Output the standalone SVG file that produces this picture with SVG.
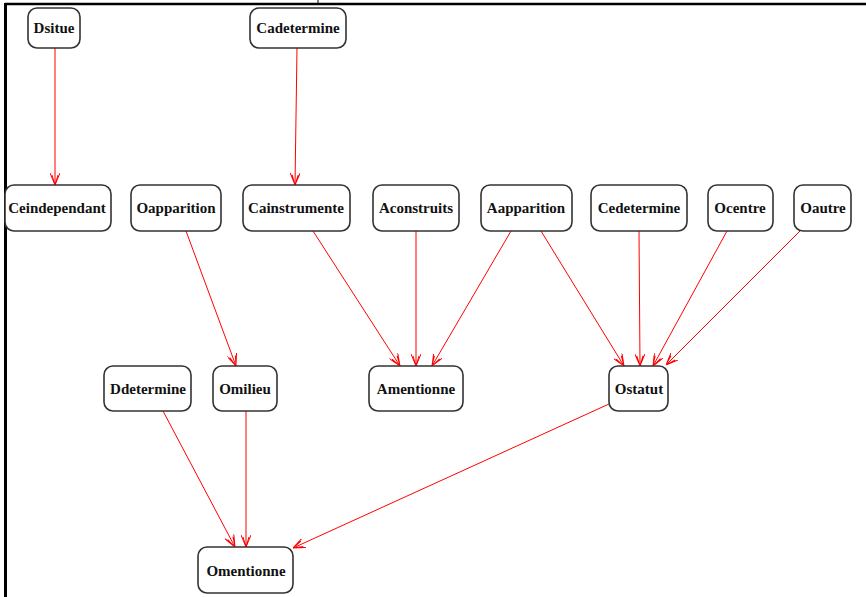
<svg xmlns="http://www.w3.org/2000/svg" width="866" height="597" viewBox="0 0 866 597">
  <defs>
    <marker id="arrow" viewBox="0 0 12 10" refX="12" refY="5" markerWidth="12" markerHeight="10" markerUnits="userSpaceOnUse" orient="auto">
      <path d="M0,0 L12,5 L0,10 M2,2 L12,5 L2,8" fill="none" stroke="#ff0000" stroke-width="1"/>
    </marker>
  </defs>
  <style>
    .box { fill: #ffffff; stroke: #333333; stroke-width: 1.6; }
    .lbl { font-family: "Liberation Serif", "DejaVu Serif", serif; font-weight: bold; font-size: 15px; fill: #111111; text-anchor: middle; dominant-baseline: central; }
    .edge { fill: none; stroke: #ff0000; stroke-width: 1; marker-end: url(#arrow); }
  </style>
  <rect width="866" height="597" fill="#ffffff"/>

  <!-- page frame -->
  <g id="frame" stroke="#000000" fill="none">
    <line x1="5" y1="4" x2="866" y2="4" stroke-width="2.5"/>
    <line x1="5.5" y1="3" x2="5.5" y2="597" stroke-width="3"/>
    <line x1="318" y1="0" x2="318" y2="4" stroke-width="1"/>
  </g>

  <!-- connectors -->
  <g id="edges">
    <line class="edge" x1="55" y1="48" x2="55" y2="185"/>
    <line class="edge" x1="297" y1="48" x2="295" y2="185"/>
    <line class="edge" x1="186" y1="231" x2="236" y2="366"/>
    <line class="edge" x1="313" y1="231" x2="400" y2="366"/>
    <line class="edge" x1="416" y1="231" x2="416" y2="366"/>
    <line class="edge" x1="511" y1="231" x2="432" y2="366"/>
    <line class="edge" x1="541" y1="231" x2="624" y2="366"/>
    <line class="edge" x1="639" y1="231" x2="640" y2="366"/>
    <line class="edge" x1="727" y1="231" x2="653" y2="366"/>
    <line class="edge" x1="800" y1="231" x2="666" y2="365"/>
    <line class="edge" x1="163" y1="411" x2="235" y2="547"/>
    <line class="edge" x1="246" y1="411" x2="246" y2="547"/>
    <line class="edge" x1="609" y1="404" x2="293" y2="548"/>
  </g>

  <!-- nodes -->
  <g id="Dsitue"><rect class="box" x="28" y="8" width="52" height="40" rx="9"/><text class="lbl" x="54" y="28">Dsitue</text></g>
  <g id="Cadetermine_top"><rect class="box" x="250" y="8" width="96" height="40" rx="9"/><text class="lbl" x="298" y="28">Cadetermine</text></g>

  <g id="Ceindependant"><rect class="box" x="5" y="185" width="106" height="46" rx="9"/><text class="lbl" x="57" y="208">Ceindependant</text></g>
  <g id="Oapparition"><rect class="box" x="131" y="185" width="90" height="46" rx="9"/><text class="lbl" x="176" y="208">Oapparition</text></g>
  <g id="Cainstrumente"><rect class="box" x="243" y="185" width="107" height="46" rx="9"/><text class="lbl" x="296" y="208">Cainstrumente</text></g>
  <g id="Aconstruits"><rect class="box" x="373" y="185" width="86" height="46" rx="9"/><text class="lbl" x="416" y="208">Aconstruits</text></g>
  <g id="Aapparition"><rect class="box" x="481" y="185" width="91" height="46" rx="9"/><text class="lbl" x="526" y="208">Aapparition</text></g>
  <g id="Cedetermine"><rect class="box" x="591" y="185" width="96" height="46" rx="9"/><text class="lbl" x="639" y="208">Cedetermine</text></g>
  <g id="Ocentre"><rect class="box" x="708" y="185" width="65" height="46" rx="9"/><text class="lbl" x="740" y="208">Ocentre</text></g>
  <g id="Oautre"><rect class="box" x="794" y="185" width="57" height="46" rx="9"/><text class="lbl" x="823" y="208">Oautre</text></g>

  <g id="Ddetermine"><rect class="box" x="104" y="366" width="87" height="45" rx="9"/><text class="lbl" x="148" y="389">Ddetermine</text></g>
  <g id="Omilieu"><rect class="box" x="213" y="366" width="64" height="45" rx="9"/><text class="lbl" x="245" y="389">Omilieu</text></g>
  <g id="Amentionne"><rect class="box" x="369" y="366" width="94" height="45" rx="9"/><text class="lbl" x="416" y="389">Amentionne</text></g>
  <g id="Ostatut"><rect class="box" x="609" y="366" width="59" height="45" rx="9"/><text class="lbl" x="639" y="389">Ostatut</text></g>

  <g id="Omentionne"><rect class="box" x="198" y="547" width="95" height="46" rx="9"/><text class="lbl" x="246" y="571">Omentionne</text></g>
</svg>
